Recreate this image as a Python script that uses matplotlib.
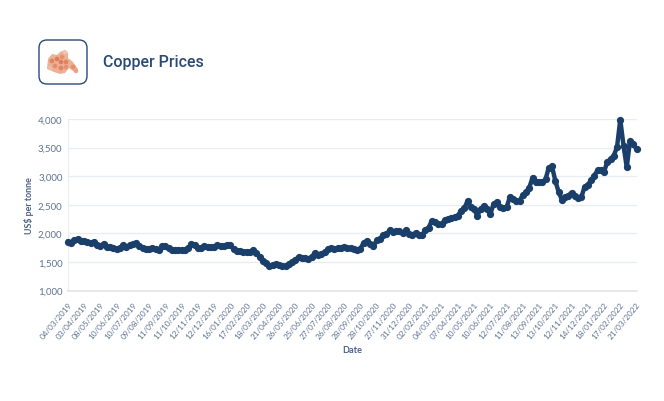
import matplotlib
matplotlib.use('Agg')
import matplotlib.pyplot as plt
from matplotlib.patches import FancyBboxPatch, Polygon, Circle
from matplotlib.transforms import ScaledTranslation

title = 'Copper Prices'
x_title = 'Date'
y_title = 'US$ per tonne'

tick_dates = ['04/03/2019', '03/04/2019', '08/05/2019', '10/06/2019', '10/07/2019', '09/08/2019',
              '11/09/2019', '11/10/2019', '12/11/2019', '12/12/2019', '16/01/2020', '17/02/2020',
              '18/03/2020', '21/04/2020', '26/05/2020', '25/06/2020', '27/07/2020', '26/08/2020',
              '28/09/2020', '28/10/2020', '27/11/2020', '31/12/2020', '02/02/2021', '04/03/2021',
              '07/04/2021', '10/05/2021', '10/06/2021', '12/07/2021', '11/08/2021', '13/09/2021',
              '13/10/2021', '12/11/2021', '14/12/2021', '18/01/2022', '17/02/2022', '21/03/2022']

y_ticks = [1000, 1500, 2000, 2500, 3000, 3500, 4000]

# five readings per labelled interval
prices_2019 = [1850, 1835, 1880, 1900, 1870, 1860, 1845, 1835, 1840, 1790,
               1770, 1820, 1760, 1760, 1745, 1730, 1745, 1790, 1765, 1790,
               1805, 1825, 1780, 1750, 1730, 1730, 1745, 1730, 1710, 1780,
               1770, 1750, 1710, 1700, 1715, 1710, 1710, 1740, 1810, 1800,
               1740, 1750, 1785, 1755, 1755, 1765, 1790, 1770, 1770, 1790]
prices_2020 = [1790, 1730, 1690, 1690, 1680, 1680, 1670, 1700, 1650, 1590,
               1520, 1480, 1430, 1450, 1465, 1450, 1435, 1430, 1470, 1495,
               1530, 1590, 1560, 1570, 1555, 1590, 1650, 1620, 1630, 1670,
               1720, 1740, 1730, 1735, 1750, 1765, 1750, 1735, 1730, 1705,
               1730, 1835, 1865, 1820, 1775, 1875, 1905, 1970, 1985, 2050,
               2030, 2040, 2040, 2010, 2050, 1995, 1965, 2010, 1965, 1970]
prices_2021 = [2060, 2100, 2220, 2190, 2160, 2160, 2235, 2250, 2260, 2280,
               2310, 2395, 2435, 2570, 2455, 2425, 2310, 2425, 2480, 2425,
               2340, 2510, 2550, 2455, 2435, 2455, 2630, 2600, 2570, 2570,
               2670, 2715, 2800, 2975, 2890, 2900, 2890, 2945, 3150, 3170,
               2920, 2730, 2590, 2630, 2660, 2710, 2650, 2620, 2630, 2810]
prices_2022 = [2850, 2925, 3010, 3100, 3100, 3080, 3245, 3300, 3360, 3505,
               3990, 3535, 3155, 3620, 3560, 3475]
prices = prices_2019 + prices_2020 + prices_2021 + prices_2022

navy = '#1a3f6b'
label_col = '#5f7290'
axis_title_col = '#4a6084'
grid_col = '#e9ecf1'

W, H = 664, 402
fig = plt.figure(figsize=(W / 100, H / 100), dpi=100, facecolor='white')
plt.rcParams['font.family'] = ['Lato', 'DejaVu Sans']

ax = fig.add_axes([68 / W, 1 - 291.5 / H, 568.5 / W, 171.5 / H])
ax.plot(range(len(prices)), prices, color=navy, lw=3.2, marker='o', ms=4.2,
        solid_joinstyle='round', clip_on=False, zorder=3)
ax.set_xlim(0, len(prices) - 1)
ax.set_ylim(1000, 4000)

ax.set_yticks(y_ticks)
ax.set_yticklabels([f'{v:,}' for v in y_ticks], color=label_col, fontsize=7)
ax.set_xticks(range(0, len(prices), 5))
ax.set_xticklabels(tick_dates, rotation=50, ha='right', rotation_mode='anchor',
                   color=label_col, fontsize=5.9)
shift = ScaledTranslation(5 / 100, 0, fig.dpi_scale_trans)
for lab in ax.get_xticklabels():
    lab.set_transform(lab.get_transform() + shift)
ax.tick_params(axis='both', length=0)
ax.tick_params(axis='y', pad=4)
ax.tick_params(axis='x', pad=7)

ax.grid(axis='y', color=grid_col, lw=1)
ax.set_axisbelow(True)
for s in ['top', 'right']:
    ax.spines[s].set_visible(False)
ax.spines['left'].set_color(grid_col)
ax.spines['left'].set_linewidth(0.8)
ax.spines['bottom'].set_color('#e2e4e8')
ax.spines['bottom'].set_linewidth(1.2)

fig.text(352 / W, 1 - 351 / H, x_title, color=axis_title_col, fontsize=6.6, fontweight='bold',
         ha='center', va='center')
fig.text(29 / W, 1 - 205.5 / H, y_title, color=axis_title_col, fontsize=6.4, fontweight='bold',
         rotation=90, ha='center', va='center')
fig.text(103 / W, 1 - 63 / H, title, color='#2a4a75', fontsize=11.5, fontweight='medium',
         family=['Roboto', 'DejaVu Sans'], ha='left', va='center')

# logo drawn in pixel coordinates
logo = fig.add_axes([0, 0, 1, 1], facecolor='none')
logo.set_xlim(0, W)
logo.set_ylim(H, 0)
logo.axis('off')
logo.add_patch(FancyBboxPatch((44, 46), 38, 34, boxstyle='round,pad=5,rounding_size=8',
                              fc='white', ec='#2a4a75', lw=1))
logo.add_patch(Polygon([(47, 70), (48, 60), (52, 55), (57, 56), (60, 53), (65, 51), (68, 54),
                        (68, 59), (73, 63), (78, 70), (77, 74), (73, 72), (69, 69), (65, 74),
                        (60, 75), (54, 73), (50, 71)], closed=True, fc='#e8a283', ec='none', alpha=0.85))
spots = [(52, 62, '#dc7a50'), (57, 60, '#d9714a'), (62, 58, '#e58a62'), (66, 63, '#dc7a50'),
         (55, 67, '#e28560'), (61, 69, '#dc7a50'), (61, 63, '#d9714a'), (73, 68, '#e28560'),
         (50, 69, '#f0bda5'), (65, 53, '#f4c9b5'), (76, 72, '#eb9c7b'), (66, 68, '#e58a62')]
for sx, sy, sc in spots:
    logo.add_patch(Circle((sx, sy), 2.3, fc=sc, ec='none', alpha=0.8))

fig.savefig('out.png', dpi=100)
